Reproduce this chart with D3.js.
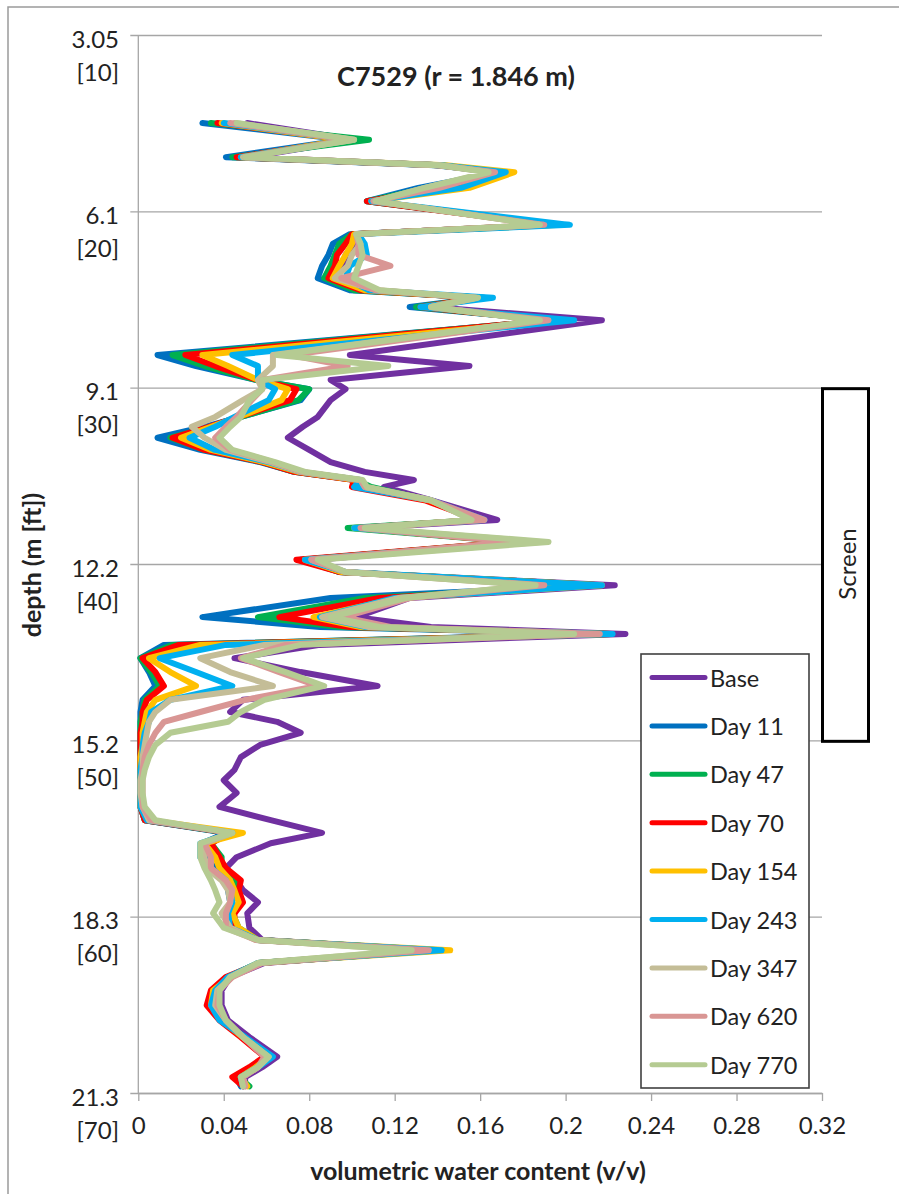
<!DOCTYPE html>
<html>
<head>
<meta charset="utf-8">
<script src="https://cdn.jsdelivr.net/npm/d3@7"></script>
<style>
  body { margin: 0; background: #fff; }
  text { font-family: Lato, "Open Sans", sans-serif; fill: #222; }
</style>
</head>
<body>
<div id="chart"></div>
<script>
// frame constants
const FRAME_WIDTH = 899;
const FRAME_HEIGHT = 1194;
const PLOT = {left: 138.3, right: 822, top: 35, bottom: 1093};

// depth (m) of each reading, shared by every profile
const depth = [4.57, 4.86, 5.16, 5.30, 5.42, 5.69, 5.92, 6.33, 6.49, 6.66, 6.85, 7.04, 7.25, 7.46, 7.59, 7.75, 7.98,
  8.58, 8.77, 9.01, 9.17, 9.36, 9.65, 9.82, 10.01, 10.22, 10.43, 10.60, 10.74, 10.86, 11.09, 11.43, 11.57, 11.81,
  12.12, 12.33, 12.56, 12.78, 13.11, 13.28, 13.40, 13.59, 13.82, 14.06, 14.30, 14.54, 14.75, 14.92, 15.11, 15.32,
  15.53, 15.75, 15.93, 16.15, 16.39, 16.62, 16.84, 17.02, 17.26, 17.45, 17.66, 17.83, 18.04, 18.23, 18.48, 18.69,
  18.87, 19.09, 19.33, 19.56, 19.82, 20.08, 20.37, 20.71, 20.89, 21.06, 21.22];

// volumetric water content (v/v) per survey
const base = [.051, .101, .052, .141, .167, .137, .109, .192, .101, .101, .097, .097, .092, .108, .160, .137, .217,
  .099, .155, .090, .097, .090, .084, .077, .070, .080, .090, .106, .129, .115, .137, .168, .106, .181,
  .083, .094, .223, .127, .102, .137, .228, .085, .045, .076, .112, .049, .043, .065, .076, .057,
  .048, .045, .040, .046, .038, .062, .086, .062, .046, .041, .046, .049, .056, .051, .052, .058,
  .137, .059, .043, .039, .039, .042, .052, .065, .058, .050, .050];
const day11 = [.030, .097, .041, .139, .169, .131, .107, .196, .099, .091, .089, .086, .084, .099, .162, .127, .195,
  .009, .027, .055, .080, .076, .048, .031, .009, .029, .057, .073, .102, .104, .137, .160, .101, .179,
  .076, .094, .216, .090, .030, .085, .221, .012, .001, .005, .008, .002, .001, .001, .001, .001,
  .001, .001, .001, .001, .001, .003, .041, .030, .031, .036, .041, .042, .043, .042, .044, .056,
  .141, .056, .043, .036, .034, .039, .050, .062, .055, .046, .048];
const day47 = [.034, .108, .044, .140, .169, .136, .107, .194, .100, .094, .092, .090, .087, .101, .161, .130, .193,
  .016, .031, .055, .080, .075, .048, .034, .015, .031, .058, .073, .102, .109, .136, .159, .098, .176,
  .077, .094, .216, .106, .056, .094, .221, .016, .001, .006, .010, .003, .002, .001, .001, .001,
  .001, .001, .001, .001, .001, .003, .042, .034, .039, .039, .045, .045, .048, .044, .047, .056,
  .139, .056, .042, .035, .036, .041, .049, .061, .056, .047, .052];
const day70 = [.037, .099, .046, .141, .169, .144, .107, .193, .100, .097, .093, .092, .089, .104, .160, .132, .192,
  .022, .036, .056, .074, .071, .047, .033, .016, .031, .058, .073, .101, .100, .134, .159, .103, .176,
  .074, .094, .216, .113, .066, .099, .221, .019, .002, .008, .012, .004, .002, .002, .001, .001,
  .001, .001, .001, .001, .001, .003, .043, .034, .038, .041, .048, .047, .049, .045, .045, .056,
  .139, .057, .041, .034, .032, .038, .048, .059, .052, .044, .049];
const day154 = [.039, .097, .048, .144, .176, .155, .109, .198, .101, .100, .097, .094, .091, .106, .161, .134, .197,
  .030, .042, .056, .070, .067, .047, .034, .020, .034, .059, .075, .102, .104, .136, .160, .101, .179,
  .078, .095, .217, .122, .082, .104, .221, .029, .005, .015, .027, .008, .004, .003, .002, .002,
  .001, .001, .001, .001, .001, .005, .049, .031, .036, .038, .043, .045, .047, .044, .047, .056,
  .146, .056, .043, .035, .034, .039, .049, .061, .055, .048, .051];
const day243 = [.040, .100, .048, .142, .172, .151, .109, .202, .103, .106, .107, .099, .097, .108, .166, .132, .204,
  .044, .056, .056, .064, .061, .045, .036, .024, .036, .061, .076, .104, .101, .137, .162, .101, .181,
  .078, .097, .217, .120, .085, .106, .222, .041, .010, .027, .044, .015, .006, .005, .003, .002,
  .002, .001, .001, .001, .001, .004, .044, .029, .029, .034, .041, .043, .044, .042, .043, .056,
  .142, .056, .042, .036, .034, .038, .050, .063, .056, .048, .049];
const day347 = [.045, .101, .049, .141, .165, .134, .111, .188, .102, .104, .100, .098, .092, .112, .158, .137, .188,
  .063, .063, .056, .058, .049, .036, .025, .031, .041, .062, .076, .104, .106, .137, .156, .105, .188,
  .081, .097, .186, .122, .086, .108, .207, .059, .029, .043, .063, .015, .008, .005, .004, .003,
  .002, .002, .001, .001, .002, .005, .044, .031, .031, .032, .039, .042, .043, .039, .043, .055,
  .130, .056, .044, .037, .036, .041, .049, .061, .056, .049, .050];
const day620 = [.043, .099, .050, .140, .167, .141, .110, .190, .102, .103, .103, .118, .095, .111, .158, .137, .192,
  .071, .098, .058, .058, .053, .046, .041, .036, .043, .063, .077, .104, .106, .137, .162, .104, .176,
  .081, .097, .190, .127, .096, .118, .216, .069, .048, .066, .084, .050, .029, .012, .008, .005,
  .003, .002, .002, .002, .002, .006, .043, .031, .034, .034, .041, .044, .043, .041, .041, .055,
  .136, .058, .044, .038, .037, .041, .049, .059, .056, .049, .050];
const day770 = [.046, .101, .050, .141, .164, .134, .111, .188, .102, .104, .105, .103, .101, .113, .159, .137, .188,
  .065, .117, .058, .058, .052, .048, .043, .038, .044, .064, .078, .105, .107, .137, .156, .106, .192,
  .084, .097, .186, .125, .090, .113, .204, .076, .049, .069, .087, .059, .048, .042, .015, .008,
  .005, .003, .002, .002, .003, .008, .044, .029, .029, .031, .034, .036, .038, .035, .040, .056,
  .128, .056, .043, .038, .038, .041, .049, .061, .056, .048, .049];

const seriesNames = ["Base", "Day 11", "Day 47", "Day 70", "Day 154", "Day 243", "Day 347", "Day 620", "Day 770"];
const seriesValues = [base, day11, day47, day70, day154, day243, day347, day620, day770];
const seriesColors = ["#7030A0", "#0070C0", "#00B050", "#FF0000", "#FFC000", "#00B0F0", "#C4BD97", "#D99694", "#B5CB92"];

// axis ticks
const xTicks = [0, 0.04, 0.08, 0.12, 0.16, 0.2, 0.24, 0.28, 0.32];
const xTickLabels = ["0", "0.04", "0.08", "0.12", "0.16", "0.2", "0.24", "0.28", "0.32"];
const depthTicks = [3.048, 6.096, 9.144, 12.192, 15.24, 18.288, 21.336];
const depthLabels = ["3.05", "6.1", "9.1", "12.2", "15.2", "18.3", "21.3"];
const feetLabels = ["[10]", "[20]", "[30]", "[40]", "[50]", "[60]", "[70]"];

// screened interval (m)
const screenTop = 9.144;
const screenBottom = 15.24;

const FRAME = d3.select("#chart")
  .append("svg")
    .attr("width", FRAME_WIDTH)
    .attr("height", FRAME_HEIGHT);

FRAME.append("rect")
  .attr("width", FRAME_WIDTH).attr("height", FRAME_HEIGHT)
  .attr("fill", "#fff");

// outer chart border (runs off the right and bottom edges)
FRAME.append("rect")
  .attr("x", 8).attr("y", 7)
  .attr("width", FRAME_WIDTH + 20).attr("height", FRAME_HEIGHT + 20)
  .attr("fill", "none").attr("stroke", "#9a9a9a").attr("stroke-width", 1.5);

const X_SCALE = d3.scaleLinear().domain([0, 0.32]).range([PLOT.left, PLOT.right]);
const Y_SCALE = d3.scaleLinear().domain([3.048, 21.336]).range([PLOT.top, PLOT.bottom]);

// horizontal gridlines with outside tick
FRAME.append("g")
  .attr("transform", "translate(" + PLOT.right + ",0)")
  .call(d3.axisLeft(Y_SCALE).tickValues(depthTicks).tickSize(PLOT.right - PLOT.left + 8).tickFormat(""))
  .call(g => g.select(".domain").remove())
  .call(g => g.selectAll("line").attr("stroke", "#a6a6a6").attr("stroke-width", 1.3));

// y axis line
FRAME.append("line")
  .attr("x1", PLOT.left).attr("x2", PLOT.left)
  .attr("y1", PLOT.top).attr("y2", PLOT.bottom)
  .attr("stroke", "#a6a6a6").attr("stroke-width", 1.3);

// y labels: metres then feet
const yLab = FRAME.append("g").attr("font-size", 24).attr("text-anchor", "end");
depthTicks.forEach((d, i) => {
  yLab.append("text")
    .attr("x", 119).attr("y", Y_SCALE(d) + 3)
    .attr("dominant-baseline", "central")
    .text(depthLabels[i]);
  yLab.append("text")
    .attr("x", 119).attr("y", Y_SCALE(d) + 36)
    .attr("dominant-baseline", "central")
    .text(feetLabels[i]);
});

// x axis
FRAME.append("g")
  .attr("transform", "translate(0," + PLOT.bottom + ")")
  .call(d3.axisBottom(X_SCALE).tickValues(xTicks).tickSize(8).tickSizeOuter(0)
        .tickFormat((d, i) => xTickLabels[i]))
  .call(g => g.select(".domain").attr("stroke", "#a6a6a6").attr("stroke-width", 1.3))
  .call(g => g.selectAll("line").attr("stroke", "#a6a6a6").attr("stroke-width", 1.3))
  .call(g => g.selectAll("text")
        .attr("font-size", 24).attr("font-family", "Lato, sans-serif")
        .attr("fill", "#222").attr("y", 24).attr("dy", "0.71em"));

// profiles
const line = d3.line()
  .x(d => X_SCALE(d[1]))
  .y(d => Y_SCALE(d[0]));

FRAME.append("g")
  .selectAll("path")
  .data(seriesValues)
  .enter()
  .append("path")
    .attr("d", vals => line(depth.map((d, i) => [d, vals[i]])))
    .attr("fill", "none")
    .attr("stroke", (vals, i) => seriesColors[i])
    .attr("stroke-width", 6)
    .attr("stroke-linejoin", "round")
    .attr("stroke-linecap", "round");

// screen box
const sTop = Y_SCALE(screenTop), sBot = Y_SCALE(screenBottom);
FRAME.append("rect")
  .attr("x", 822.5).attr("y", sTop + 1)
  .attr("width", 46).attr("height", sBot - sTop)
  .attr("fill", "#fff").attr("stroke", "#000").attr("stroke-width", 3);
FRAME.append("text")
  .attr("transform", "translate(846," + ((sTop + sBot) / 2) + ") rotate(-90)")
  .attr("text-anchor", "middle").attr("dominant-baseline", "central")
  .attr("font-size", 24)
  .text("Screen");

// legend
const LEG = {x: 641, y: 654, w: 168, h: 434, step: 48.4};
const legend = FRAME.append("g");
legend.append("rect")
  .attr("x", LEG.x).attr("y", LEG.y).attr("width", LEG.w).attr("height", LEG.h)
  .attr("fill", "#fff").attr("stroke", "#404040").attr("stroke-width", 1.6);
seriesNames.forEach((name, i) => {
  const yy = LEG.y + 23.5 + i * LEG.step;
  legend.append("line")
    .attr("x1", 652).attr("x2", 705).attr("y1", yy).attr("y2", yy)
    .attr("stroke", seriesColors[i]).attr("stroke-width", 5).attr("stroke-linecap", "round");
  legend.append("text")
    .attr("x", 710).attr("y", yy)
    .attr("dominant-baseline", "central")
    .attr("font-size", 23.5)
    .text(name);
});

// titles
FRAME.append("text")
  .attr("x", 456).attr("y", 75)
  .attr("text-anchor", "middle").attr("dominant-baseline", "central")
  .attr("font-size", 27).attr("font-weight", "bold")
  .text("C7529 (r = 1.846 m)");

FRAME.append("text")
  .attr("x", 478).attr("y", 1170)
  .attr("text-anchor", "middle").attr("dominant-baseline", "central")
  .attr("font-size", 25).attr("font-weight", "bold")
  .text("volumetric water content (v/v)");

FRAME.append("text")
  .attr("transform", "translate(31,565) rotate(-90)")
  .attr("text-anchor", "middle").attr("dominant-baseline", "central")
  .attr("font-size", 25).attr("font-weight", "bold")
  .text("depth (m [ft])");
</script>
</body>
</html>
